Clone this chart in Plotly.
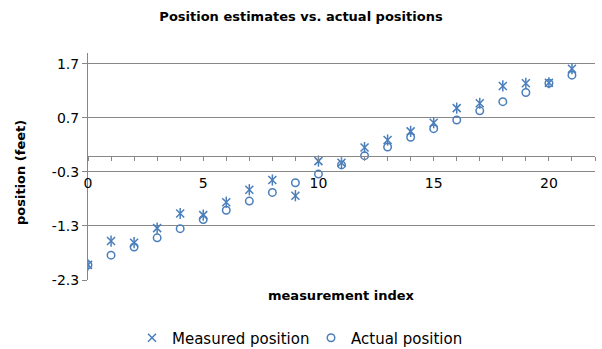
import plotly.graph_objects as go

# ---- data ----
measurement_index = list(range(22))
measured_position = [-2.02, -1.58, -1.61, -1.34, -1.07, -1.10, -0.86, -0.63, -0.45, -0.74,
                     -0.10, -0.13, 0.15, 0.29, 0.45, 0.61, 0.88, 0.97, 1.29, 1.34, 1.35, 1.61]
actual_position = [-2.02, -1.84, -1.69, -1.52, -1.35, -1.18, -1.01, -0.84, -0.68, -0.50,
                   -0.34, -0.17, 0.00, 0.16, 0.34, 0.50, 0.66, 0.83, 1.00, 1.17, 1.34, 1.49]
y_tick_values = [-2.3, -1.3, -0.3, 0.7, 1.7]
y_tick_labels = ["-2.3", "-1.3", "-0.3", "0.7", "1.7"]
x_tick_values = [0, 5, 10, 15, 20]
x_tick_labels = ["0", "5", "10", "15", "20"]
y_range = [-2.3, 1.9]
x_range = [0, 22]

BLUE = "#4A7EBB"
GRAY = "#878787"
FONT = "DejaVu Sans"

fig = go.Figure()
fig.add_trace(go.Scatter(
    x=measurement_index, y=measured_position, mode="markers", name="Measured position",
    legendgroup="m",
    marker=dict(symbol="x-thin-open", size=8, color=BLUE, line=dict(color=BLUE, width=1.5)),
))
fig.add_trace(go.Scatter(
    x=measurement_index, y=measured_position, mode="markers", name="Measured position",
    legendgroup="m", showlegend=False,
    marker=dict(symbol="line-ns-open", size=8, color=BLUE, line=dict(color=BLUE, width=1.5)),
))
fig.add_trace(go.Scatter(
    x=measurement_index, y=actual_position, mode="markers", name="Actual position",
    marker=dict(symbol="circle-open", size=7.5, color=BLUE, line=dict(color=BLUE, width=1.5)),
))

x_axis_pos = (0 - y_range[0]) / (y_range[1] - y_range[0])

L, R, T, B = 88, 7, 53, 69
PW, PH = 602 - L - R, 349 - T - B

fig.update_layout(
    width=602, height=349,
    margin=dict(l=L, r=R, t=T, b=B, autoexpand=False),
    paper_bgcolor="white", plot_bgcolor="white",
    font=dict(family=FONT, size=14, color="black"),
    title=dict(text="<b>Position estimates vs. actual positions</b>",
               x=301 / 602, xanchor="center", y=1 - 16.5 / 349, yanchor="middle", yref="container",
               font=dict(family=FONT, size=13, color="black")),
    showlegend=True,
    legend=dict(orientation="h", xref="container", yref="container",
                x=132 / 602, xanchor="left", y=1 - 338 / 349, yanchor="middle",
                entrywidth=134, entrywidthmode="pixels",
                font=dict(family=FONT, size=15, color="black"),
                bgcolor="rgba(0,0,0,0)"),
    xaxis=dict(range=x_range, tickvals=x_tick_values, ticktext=x_tick_labels,
               showgrid=False, zeroline=False, automargin=False,
               showline=True, linecolor=GRAY, linewidth=1,
               ticks="outside", ticklen=4, tickcolor=GRAY,
               minor=dict(dtick=1, tick0=0, ticks="outside", ticklen=4, tickcolor=GRAY),
               anchor="free", position=x_axis_pos, ticklabelstandoff=11,
               tickfont=dict(family=FONT, size=14, color="black")),
    yaxis=dict(range=y_range, tickvals=y_tick_values, ticktext=y_tick_labels,
               showgrid=True, gridcolor=GRAY, gridwidth=1, zeroline=False, automargin=False,
               showline=True, linecolor=GRAY, linewidth=1,
               ticks="outside", ticklen=5, tickcolor=GRAY,
               tickfont=dict(family=FONT, size=14, color="black")),
    annotations=[
        dict(text="<b>position (feet)</b>", xref="paper", yref="paper",
             x=(20 - L) / PW, y=(280 - 173) / PH, xanchor="center", yanchor="middle",
             textangle=-90, showarrow=False, font=dict(family=FONT, size=13, color="black")),
        dict(text="<b>measurement index</b>", xref="paper", yref="paper",
             x=(341 - L) / PW, y=-(295 - 280) / PH, xanchor="center", yanchor="middle",
             showarrow=False, font=dict(family=FONT, size=13, color="black")),
    ],
)

fig.write_html(
    "out.html",
    config={"displayModeBar": False},
    post_script="document.body.style.margin='0';document.body.style.padding='0';",
)
